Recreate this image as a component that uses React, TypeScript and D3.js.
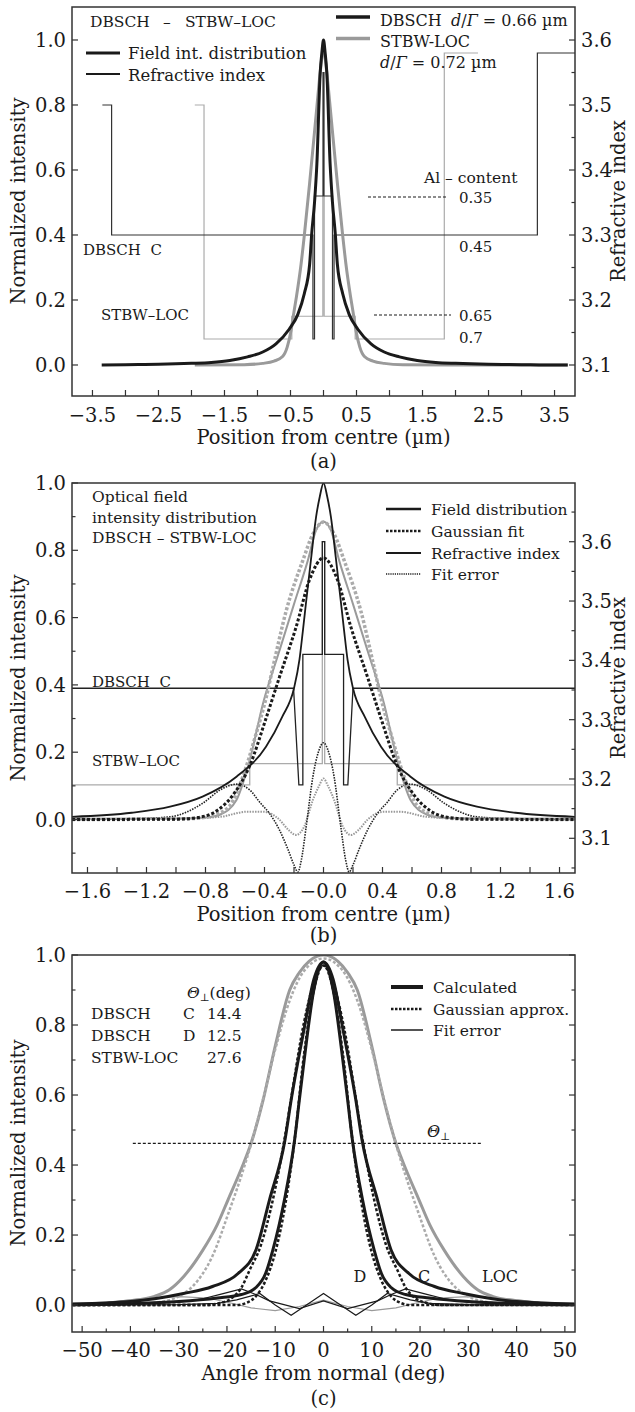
import React from 'react';
import * as d3 from 'd3';

const FONT = '"DejaVu Serif", serif';
const INK = '#1a1a1a';
const GRAY = '#9a9a9a';
const LGRAY = '#ababab';

type P = [number, number];

// ---------------- Panel (a) data ----------------
const A_X_TICKS = [-3.5, -3, -2.5, -2, -1.5, -1, -0.5, 0, 0.5, 1, 1.5, 2, 2.5, 3, 3.5];
const A_X_LABELS = [-3.5, -2.5, -1.5, -0.5, 0.5, 1.5, 2.5, 3.5];
const A_YL_TICKS = [0, 0.2, 0.4, 0.6, 0.8, 1.0];
const A_YR_TICKS = [3.1, 3.15, 3.2, 3.25, 3.3, 3.35, 3.4, 3.45, 3.5, 3.55, 3.6];
const A_YR_LABELS = [3.1, 3.2, 3.3, 3.4, 3.5, 3.6];

const A_FIELD_DBSCH: P[] = [
  [-3.36, 0], [-3.0, 0.001], [-2.5, 0.002], [-2.0, 0.005], [-1.7, 0.008], [-1.42, 0.014],
  [-1.15, 0.025], [-0.92, 0.04], [-0.72, 0.065], [-0.52, 0.11], [-0.39, 0.155], [-0.29, 0.22],
  [-0.21, 0.31], [-0.18, 0.4], [-0.136, 0.5], [-0.1, 0.62], [-0.05, 0.9], [-0.025, 0.96], [0, 1.0],
  [0.025, 0.96], [0.05, 0.9], [0.1, 0.62], [0.136, 0.5], [0.18, 0.4], [0.21, 0.31], [0.29, 0.22],
  [0.39, 0.155], [0.52, 0.11], [0.72, 0.065], [0.92, 0.04], [1.15, 0.025], [1.42, 0.014], [1.7, 0.008],
  [2.0, 0.005], [2.5, 0.002], [3.0, 0.001], [3.36, 0], [3.7, 0],
];
const A_FIELD_STBW: P[] = [
  [-1.95, 0], [-1.2, 0.001], [-0.92, 0.005], [-0.75, 0.012], [-0.62, 0.026], [-0.55, 0.055],
  [-0.49, 0.108], [-0.45, 0.16], [-0.41, 0.21], [-0.34, 0.31], [-0.29, 0.4], [-0.21, 0.56],
  [-0.1, 0.795], [-0.05, 0.9], [0, 0.97], [0.05, 0.9], [0.1, 0.795], [0.21, 0.56], [0.29, 0.4],
  [0.34, 0.31], [0.41, 0.21], [0.45, 0.16], [0.49, 0.108], [0.55, 0.055], [0.62, 0.026],
  [0.75, 0.012], [0.92, 0.005], [1.2, 0.001], [1.95, 0], [3.7, 0],
];
const A_INDEX_DBSCH: P[] = [
  [-3.35, 3.5], [-3.21, 3.5], [-3.21, 3.3], [-0.16, 3.3], [-0.16, 3.14], [-0.136, 3.14], [-0.136, 3.36],
  [-0.005, 3.36], [-0.005, 3.55], [0.005, 3.55], [0.005, 3.36], [0.136, 3.36], [0.136, 3.14],
  [0.16, 3.14], [0.16, 3.3], [3.24, 3.3], [3.24, 3.58], [3.81, 3.58],
];
const A_INDEX_STBW: P[] = [
  [-1.95, 3.5], [-1.81, 3.5], [-1.81, 3.14], [-0.48, 3.14], [-0.48, 3.175], [-0.01, 3.175],
  [-0.01, 3.55], [0.01, 3.55], [0.01, 3.175], [0.48, 3.175], [0.48, 3.14], [1.83, 3.14],
  [1.83, 3.58], [2.34, 3.58],
];

// ---------------- Panel (b) data ----------------
const B_X_TICKS = [-1.6, -1.4, -1.2, -1.0, -0.8, -0.6, -0.4, -0.2, 0, 0.2, 0.4, 0.6, 0.8, 1.0, 1.2, 1.4, 1.6];
const B_X_LABEL_VALUES = [-1.6, -1.2, -0.8, -0.4, 0, 0.4, 0.8, 1.2, 1.6];
const B_X_LABELS = ['−1.6', '−1.2', '−0.8', '−0.4', '−0.0', '0.4', '0.8', '1.2', '1.6'];
const B_YL_TICKS = [-0.1, 0, 0.1, 0.2, 0.3, 0.4, 0.5, 0.6, 0.7, 0.8, 0.9, 1.0];
const B_YL_LABELS = [0, 0.2, 0.4, 0.6, 0.8, 1.0];
const B_YR_TICKS = [3.05, 3.1, 3.15, 3.2, 3.25, 3.3, 3.35, 3.4, 3.45, 3.5, 3.55, 3.6, 3.65];
const B_YR_LABELS = [3.1, 3.2, 3.3, 3.4, 3.5, 3.6];

const B_FIELD_DBSCH: P[] = [
  [-1.705, 0.008], [-1.3, 0.02], [-1.04, 0.038], [-0.82, 0.068], [-0.59, 0.127], [-0.39, 0.216],
  [-0.28, 0.305], [-0.2, 0.39], [-0.163, 0.475], [-0.14, 0.56], [-0.117, 0.65], [-0.083, 0.78],
  [-0.05, 0.9], [-0.025, 0.96], [0, 1.0], [0.025, 0.96], [0.05, 0.9], [0.083, 0.78], [0.117, 0.65],
  [0.14, 0.56], [0.163, 0.475], [0.2, 0.39], [0.28, 0.305], [0.39, 0.216], [0.59, 0.127],
  [0.82, 0.068], [1.04, 0.038], [1.3, 0.02], [1.705, 0.008],
];
const B_GAUSS_DBSCH: P[] = [
  [-1.705, 0], [-1.0, 0.001], [-0.85, 0.006], [-0.727, 0.025], [-0.615, 0.072], [-0.5, 0.16],
  [-0.39, 0.3], [-0.298, 0.424], [-0.185, 0.573], [-0.095, 0.712], [0, 0.777], [0.095, 0.712],
  [0.185, 0.573], [0.298, 0.424], [0.39, 0.3], [0.5, 0.16], [0.615, 0.072], [0.727, 0.025],
  [0.85, 0.006], [1.0, 0.001], [1.705, 0],
];
const B_FIELD_STBW: P[] = [
  [-1.705, 0.002], [-1.0, 0.003], [-0.8, 0.006], [-0.7, 0.015], [-0.59, 0.058], [-0.5, 0.177],
  [-0.41, 0.345], [-0.3, 0.5], [-0.2, 0.64], [-0.106, 0.77], [-0.05, 0.86], [0, 0.885],
  [0.05, 0.86], [0.106, 0.77], [0.2, 0.64], [0.3, 0.5], [0.41, 0.345], [0.5, 0.177], [0.59, 0.058],
  [0.7, 0.015], [0.8, 0.006], [1.0, 0.003], [1.705, 0.002],
];
const B_GAUSS_STBW: P[] = [
  [-1.705, 0], [-1.0, 0.001], [-0.85, 0.004], [-0.75, 0.012], [-0.637, 0.04], [-0.547, 0.127],
  [-0.456, 0.256], [-0.39, 0.36], [-0.344, 0.45], [-0.253, 0.62], [-0.14, 0.77], [-0.07, 0.85],
  [0, 0.884], [0.07, 0.85], [0.14, 0.77], [0.253, 0.62], [0.344, 0.45], [0.39, 0.36], [0.456, 0.256],
  [0.547, 0.127], [0.637, 0.04], [0.75, 0.012], [0.85, 0.004], [1.0, 0.001], [1.705, 0],
];
const B_ERR_DBSCH: P[] = [
  [-1.705, 0], [-1.3, 0.002], [-1.04, 0.008], [-0.82, 0.048], [-0.7, 0.088], [-0.59, 0.105],
  [-0.5, 0.088], [-0.43, 0.05], [-0.366, 0.018], [-0.3, -0.03], [-0.24, -0.09], [-0.2, -0.135],
  [-0.174, -0.156], [-0.15, -0.12], [-0.117, -0.02], [-0.072, 0.127], [-0.035, 0.2], [0, 0.228],
  [0.035, 0.2], [0.072, 0.127], [0.117, -0.02], [0.15, -0.12], [0.174, -0.156], [0.2, -0.135],
  [0.24, -0.09], [0.3, -0.03], [0.366, 0.018], [0.43, 0.05], [0.5, 0.088], [0.59, 0.105],
  [0.7, 0.088], [0.82, 0.048], [1.04, 0.008], [1.3, 0.002], [1.705, 0],
];
const B_ERR_STBW: P[] = [
  [-1.705, 0], [-1.0, 0.002], [-0.7, 0.008], [-0.52, 0.023], [-0.41, 0.023], [-0.3, 0.0],
  [-0.24, -0.03], [-0.185, -0.046], [-0.13, -0.02], [-0.072, 0.058], [-0.03, 0.1], [0, 0.122],
  [0.03, 0.1], [0.072, 0.058], [0.13, -0.02], [0.185, -0.046], [0.24, -0.03], [0.3, 0.0],
  [0.41, 0.023], [0.52, 0.023], [0.7, 0.008], [1.0, 0.002], [1.705, 0],
];
const B_INDEX_DBSCH: P[] = [
  [-1.705, 3.353], [-0.203, 3.353], [-0.167, 3.19], [-0.14, 3.19], [-0.14, 3.41], [-0.008, 3.41],
  [-0.008, 3.6], [0.008, 3.6], [0.008, 3.41], [0.136, 3.41], [0.136, 3.19], [0.165, 3.19],
  [0.2, 3.353], [1.705, 3.353],
];
const B_INDEX_STBW: P[] = [
  [-1.705, 3.19], [-0.5, 3.19], [-0.5, 3.226], [-0.008, 3.226], [-0.008, 3.6], [0.008, 3.6],
  [0.008, 3.226], [0.5, 3.226], [0.5, 3.19], [1.705, 3.19],
];

// ---------------- Panel (c) data ----------------
const C_X_TICKS = [-50, -45, -40, -35, -30, -25, -20, -15, -10, -5, 0, 5, 10, 15, 20, 25, 30, 35, 40, 45, 50];
const C_X_LABELS = [-50, -40, -30, -20, -10, 0, 10, 20, 30, 40, 50];
const C_Y_TICKS = [0, 0.1, 0.2, 0.3, 0.4, 0.5, 0.6, 0.7, 0.8, 0.9, 1.0];
const C_Y_LABELS = [0, 0.2, 0.4, 0.6, 0.8, 1.0];

const C_CALC_LOC: P[] = [
  [-52, 0.002], [-45, 0.006], [-40, 0.012], [-35, 0.025], [-32, 0.043], [-29, 0.081], [-25, 0.157],
  [-22, 0.23], [-19.8, 0.3], [-17, 0.39], [-15, 0.462], [-12.5, 0.586], [-10, 0.74], [-7, 0.9],
  [-5, 0.95], [-3, 0.982], [0, 1.0], [3, 0.982], [5, 0.95], [7, 0.9], [10, 0.74], [12.5, 0.586],
  [15, 0.462], [17, 0.39], [19.8, 0.3], [22, 0.23], [25, 0.157], [29, 0.081], [32, 0.043],
  [35, 0.025], [40, 0.012], [45, 0.006], [52, 0.002],
];
const C_GAUSS_LOC: P[] = [
  [-52, 0], [-40, 0.001], [-35, 0.006], [-30, 0.025], [-27, 0.055], [-23, 0.14], [-19.5, 0.27],
  [-17, 0.37], [-15, 0.46], [-12.5, 0.59], [-10, 0.73], [-7, 0.87], [-4, 0.955], [0, 0.99],
  [4, 0.955], [7, 0.87], [10, 0.73], [12.5, 0.59], [15, 0.46], [17, 0.37], [19.5, 0.27], [23, 0.14],
  [27, 0.055], [30, 0.025], [35, 0.006], [40, 0.001], [52, 0],
];
const C_CALC_C: P[] = [
  [-52, 0.003], [-45, 0.006], [-40, 0.01], [-35, 0.018], [-29, 0.033], [-23, 0.053], [-17.7, 0.09],
  [-14, 0.157], [-11.2, 0.3], [-8, 0.47], [-6.7, 0.586], [-4, 0.79], [-2, 0.93], [0, 0.98],
  [2, 0.93], [4, 0.79], [6.7, 0.586], [8, 0.47], [11.2, 0.3], [14, 0.157], [17.7, 0.09], [23, 0.053],
  [29, 0.033], [35, 0.018], [40, 0.01], [45, 0.006], [52, 0.003],
];
const C_CALC_D: P[] = [
  [-52, 0.001], [-40, 0.004], [-30, 0.01], [-22, 0.02], [-17, 0.03], [-14, 0.05], [-12, 0.09],
  [-10.5, 0.157], [-8.1, 0.3], [-6, 0.47], [-5, 0.586], [-4, 0.7], [-2, 0.9], [0, 0.98], [2, 0.9],
  [4, 0.7], [5, 0.586], [6, 0.47], [8.1, 0.3], [10.5, 0.157], [12, 0.09], [14, 0.05], [17, 0.03],
  [22, 0.02], [30, 0.01], [40, 0.004], [52, 0.001],
];
const C_GAUSS_C: P[] = [
  [-52, 0], [-25, 0], [-22, 0.004], [-19, 0.02], [-17, 0.05], [-15.3, 0.1], [-13, 0.17], [-11, 0.27],
  [-8, 0.48], [-6.7, 0.59], [-4, 0.81], [0, 0.97], [4, 0.81], [6.7, 0.59], [8, 0.48], [11, 0.27],
  [13, 0.17], [15.3, 0.1], [17, 0.05], [19, 0.02], [22, 0.004], [25, 0], [52, 0],
];
const C_GAUSS_D: P[] = [
  [-52, 0], [-18, 0], [-16, 0.006], [-14, 0.025], [-12, 0.07], [-10, 0.15], [-8, 0.28], [-6, 0.47],
  [-4, 0.72], [-2, 0.9], [0, 0.97], [2, 0.9], [4, 0.72], [6, 0.47], [8, 0.28], [10, 0.15], [12, 0.07],
  [14, 0.025], [16, 0.006], [18, 0], [52, 0],
];
const C_ERR_C: P[] = [
  [-52, 0], [-40, 0.002], [-30, 0.008], [-25, 0.018], [-21, 0.032], [-17, 0.046], [-14, 0.03],
  [-11.2, 0.012], [-5, -0.01], [0, 0.012], [5, -0.01], [11.2, 0.012], [14, 0.03], [17, 0.046],
  [21, 0.032], [25, 0.018], [30, 0.008], [40, 0.002], [52, 0],
];
const C_ERR_D: P[] = [
  [-52, 0], [-30, 0.001], [-22, 0.005], [-18, 0.015], [-13.2, 0.033], [-10, 0.0], [-6.7, -0.029],
  [-3.3, 0.002], [0, 0.033], [3.3, 0.002], [6.7, -0.029], [10, 0.0], [13.2, 0.033], [18, 0.015],
  [22, 0.005], [30, 0.001], [52, 0],
];
const C_ERR_LOC: P[] = [
  [-52, 0.002], [-45, 0.008], [-38, 0.018], [-30, 0.024], [-24, 0.02], [-19, 0.005], [-15, -0.008],
  [-10, -0.016], [-5, -0.004], [0, 0.014], [5, -0.004], [10, -0.016], [15, -0.008], [19, 0.005],
  [24, 0.02], [30, 0.024], [38, 0.018], [45, 0.008], [52, 0.002],
];
const C_THETA_LINE: P[] = [[-39.5, 0.462], [33, 0.462]];

// ---------------- helpers ----------------
const L = 72;
const R = 575;
const SP2 = '\u00a0\u00a0';

function fmt(v: number, d: number) {
  return (v < 0 ? '−' : '') + Math.abs(v).toFixed(d);
}

type Sc = d3.ScaleLinear<number, number>;

function Frame(props: {
  x: Sc; yL: Sc; yR: Sc; top: number; bottom: number;
  xTicks: number[]; xMajor: (v: number) => boolean; xLabelVals: number[]; xLabels: string[];
  yLTicks: number[]; yLMajor: (v: number) => boolean; yLLabels: number[];
  yRTicks: number[]; yRMajor: (v: number) => boolean; yRLabels: number[];
  xLabelBase: number; tickFont: number;
}) {
  const { x, yL, yR, top, bottom } = props;
  const majorLen = 6;
  const minorLen = 3.5;
  return (
    <g>
      {props.xTicks.map((v, i) => (
        <line key={'xt' + i} x1={x(v)} x2={x(v)} y1={bottom} y2={bottom - (props.xMajor(v) ? majorLen : minorLen)} stroke="#333" strokeWidth={1.2} />
      ))}
      {props.xLabelVals.map((v, i) => (
        <text key={'xl' + i} x={x(v)} y={props.xLabelBase} textAnchor="middle" fontSize={props.tickFont} fill={INK}>{props.xLabels[i]}</text>
      ))}
      {props.yLTicks.map((v, i) => (
        <line key={'ylt' + i} x1={L} x2={L + (props.yLMajor(v) ? majorLen : minorLen)} y1={yL(v)} y2={yL(v)} stroke="#333" strokeWidth={1.2} />
      ))}
      {props.yLLabels.map((v, i) => (
        <text key={'yll' + i} x={L - 6} y={yL(v)} dy="0.36em" textAnchor="end" fontSize={props.tickFont} fill={INK}>{fmt(v, 1)}</text>
      ))}
      {props.yRTicks.map((v, i) => (
        <line key={'yrt' + i} x1={R} x2={R - (props.yRMajor(v) ? majorLen : minorLen)} y1={yR(v)} y2={yR(v)} stroke="#333" strokeWidth={1.2} />
      ))}
      {props.yRLabels.map((v, i) => (
        <text key={'yrl' + i} x={R + 6} y={yR(v)} dy="0.36em" textAnchor="start" fontSize={props.tickFont} fill={INK}>{fmt(v, 1)}</text>
      ))}
      <rect x={L} y={top} width={R - L} height={bottom - top} fill="none" stroke="#333" strokeWidth={1.5} />
    </g>
  );
}

const near = (v: number, step: number) => Math.abs(v / step - Math.round(v / step)) < 1e-6;

export default function App() {
  const ax = d3.scaleLinear().domain([-3.81, 3.81]).range([L, R]);
  const ayL = d3.scaleLinear().domain([-0.0954, 1.1015]).range([396, 7]);
  const ayR = d3.scaleLinear().domain([3.0523, 3.6508]).range([396, 7]);

  const bx = d3.scaleLinear().domain([-1.705, 1.705]).range([L, R]);
  const byL = d3.scaleLinear().domain([-0.159, 1.0]).range([873, 483]);
  const byR = d3.scaleLinear().domain([3.0415, 3.699]).range([873, 483]);

  const cx = d3.scaleLinear().domain([-52.1, 52.1]).range([L, R]);
  const cyL = d3.scaleLinear().domain([-0.077, 1.0]).range([1332, 955]);

  const smooth = (x: Sc, y: Sc) => d3.line<P>().x(d => x(d[0])).y(d => y(d[1])).curve(d3.curveMonotoneX);
  const lin = (x: Sc, y: Sc) => d3.line<P>().x(d => x(d[0])).y(d => y(d[1]));

  const aS = smooth(ax, ayL);
  const aI = lin(ax, ayR);
  const bS = smooth(bx, byL);
  const bI = lin(bx, byR);
  const cS = smooth(cx, cyL);
  const cLn = lin(cx, cyL);

  const tickFont = 19.5;
  const titleFont = 19.5;

  return (
    <svg width={635} height={1412} style={{ position: 'absolute', left: 0, top: 0, background: '#fff' }} fontFamily={FONT}>
      <defs>
        <clipPath id="clipA"><rect x={L} y={7} width={R - L} height={389} /></clipPath>
        <clipPath id="clipB"><rect x={L} y={483} width={R - L} height={390} /></clipPath>
        <clipPath id="clipC"><rect x={L} y={955} width={R - L} height={377} /></clipPath>
      </defs>
      <rect x={0} y={0} width={635} height={1412} fill="#fff" />

      {/* ================= Panel (a) ================= */}
      <g clipPath="url(#clipA)">
        <path d={aI(A_INDEX_STBW) || ''} fill="none" stroke={LGRAY} strokeWidth={1.2} />
        <path d={aI(A_INDEX_DBSCH) || ''} fill="none" stroke="#333" strokeWidth={1.2} />
        <path d={aS(A_FIELD_STBW) || ''} fill="none" stroke={GRAY} strokeWidth={3} />
        <path d={aS(A_FIELD_DBSCH) || ''} fill="none" stroke={INK} strokeWidth={3} />
      </g>
      <Frame x={ax} yL={ayL} yR={ayR} top={7} bottom={396}
        xTicks={A_X_TICKS} xMajor={() => true} xLabelVals={A_X_LABELS} xLabels={A_X_LABELS.map(v => fmt(v, 1))}
        yLTicks={A_YL_TICKS} yLMajor={() => true} yLLabels={A_YL_TICKS}
        yRTicks={A_YR_TICKS} yRMajor={v => near(v, 0.1)} yRLabels={A_YR_LABELS}
        xLabelBase={422} tickFont={tickFont} />
      <g fill={INK}>
        <text x={90} y={27} fontSize={15.5}>DBSCH</text>
        <text x={163} y={27} fontSize={15.5}>–</text>
        <text x={185} y={27} fontSize={15.5}>STBW–LOC</text>
        <line x1={86} x2={120} y1={53} y2={53} stroke={INK} strokeWidth={3} />
        <text x={128} y={59} fontSize={16.5}>Field int. distribution</text>
        <line x1={86} x2={120} y1={74} y2={74} stroke={INK} strokeWidth={1.8} />
        <text x={128} y={81} fontSize={16.5}>Refractive index</text>

        <line x1={336} x2={370} y1={17} y2={17} stroke={INK} strokeWidth={3.5} />
        <text x={380} y={26} fontSize={16}>DBSCH<tspan x={451} fontStyle="italic">d</tspan><tspan>/</tspan><tspan fontStyle="italic">Γ</tspan> = 0.66 µm</text>
        <line x1={336} x2={370} y1={38.5} y2={38.5} stroke={GRAY} strokeWidth={3.5} />
        <text x={380} y={46.5} fontSize={16}>STBW-LOC</text>
        <text x={380} y={68} fontSize={16}><tspan fontStyle="italic">d</tspan>/<tspan fontStyle="italic">Γ</tspan> = 0.72 µm</text>

        <text x={424} y={183} fontSize={15.5}>Al – content</text>
        <line x1={368} x2={447} y1={197} y2={197} stroke={INK} strokeWidth={1.2} strokeDasharray="3 2" />
        <text x={459} y={203} fontSize={15}>0.35</text>
        <text x={459} y={252} fontSize={15}>0.45</text>
        <line x1={374} x2={451} y1={315} y2={315} stroke={INK} strokeWidth={1.2} strokeDasharray="3 2" />
        <text x={459} y={321} fontSize={15}>0.65</text>
        <text x={459} y={343} fontSize={15}>0.7</text>
        <text x={83} y={255} fontSize={15}>{'DBSCH' + SP2 + 'C'}</text>
        <text x={101} y={320} fontSize={15}>STBW–LOC</text>

        <text x={323.5} y={444} fontSize={titleFont} textAnchor="middle">Position from centre (µm)</text>
        <text x={323.5} y={468} fontSize={titleFont} textAnchor="middle">(a)</text>
        <text transform={`translate(25,201) rotate(-90)`} fontSize={titleFont} textAnchor="middle">Normalized intensity</text>
        <text transform={`translate(625,201) rotate(-90)`} fontSize={titleFont} textAnchor="middle">Refractive index</text>
      </g>

      {/* ================= Panel (b) ================= */}
      <g clipPath="url(#clipB)">
        <path d={bI(B_INDEX_STBW) || ''} fill="none" stroke={LGRAY} strokeWidth={1.3} />
        <path d={bI(B_INDEX_DBSCH) || ''} fill="none" stroke="#222" strokeWidth={1.3} />
        <path d={bS(B_ERR_STBW) || ''} fill="none" stroke="#999" strokeWidth={2} strokeDasharray="1.5 1.2" />
        <path d={bS(B_ERR_DBSCH) || ''} fill="none" stroke="#222" strokeWidth={1.6} strokeDasharray="1.5 1.2" />
        <path d={bS(B_FIELD_STBW) || ''} fill="none" stroke={GRAY} strokeWidth={2} />
        <path d={bS(B_GAUSS_STBW) || ''} fill="none" stroke={LGRAY} strokeWidth={3.5} strokeDasharray="3 2" />
        <path d={bS(B_GAUSS_DBSCH) || ''} fill="none" stroke={INK} strokeWidth={3} strokeDasharray="3 2" />
        <path d={bS(B_FIELD_DBSCH) || ''} fill="none" stroke={INK} strokeWidth={1.8} />
      </g>
      <Frame x={bx} yL={byL} yR={byR} top={483} bottom={873}
        xTicks={B_X_TICKS} xMajor={() => true} xLabelVals={B_X_LABEL_VALUES} xLabels={B_X_LABELS}
        yLTicks={B_YL_TICKS} yLMajor={v => near(v, 0.2)} yLLabels={B_YL_LABELS}
        yRTicks={B_YR_TICKS} yRMajor={v => near(v, 0.1)} yRLabels={B_YR_LABELS}
        xLabelBase={898} tickFont={tickFont} />
      <g fill={INK}>
        <text x={92} y={502} fontSize={15.5}>Optical field</text>
        <text x={92} y={523} fontSize={15.5}>intensity distribution</text>
        <text x={92} y={543} fontSize={15.5}>DBSCH – STBW-LOC</text>

        <line x1={386} x2={421} y1={509} y2={509} stroke={INK} strokeWidth={2.5} />
        <text x={431} y={515} fontSize={15.5}>Field distribution</text>
        <line x1={386} x2={421} y1={531} y2={531} stroke={INK} strokeWidth={2.5} strokeDasharray="2.5 1.5" />
        <text x={431} y={537} fontSize={15.5}>Gaussian fit</text>
        <line x1={386} x2={421} y1={553} y2={553} stroke={INK} strokeWidth={1.8} />
        <text x={431} y={559} fontSize={15.5}>Refractive index</text>
        <line x1={386} x2={421} y1={574} y2={574} stroke="#555" strokeWidth={1.8} strokeDasharray="1.2 1" />
        <text x={431} y={580} fontSize={15.5}>Fit error</text>

        <text x={92} y={687} fontSize={15}>{'DBSCH' + SP2 + 'C'}</text>
        <text x={92} y={766} fontSize={15}>STBW–LOC</text>

        <text x={323.5} y={921} fontSize={titleFont} textAnchor="middle">Position from centre (µm)</text>
        <text x={323.5} y={942} fontSize={titleFont} textAnchor="middle">(b)</text>
        <text transform={`translate(25,678) rotate(-90)`} fontSize={titleFont} textAnchor="middle">Normalized intensity</text>
        <text transform={`translate(625,678) rotate(-90)`} fontSize={titleFont} textAnchor="middle">Refractive index</text>
      </g>

      {/* ================= Panel (c) ================= */}
      <g clipPath="url(#clipC)">
        <path d={cLn(C_ERR_LOC) || ''} fill="none" stroke={GRAY} strokeWidth={1.1} />
        <path d={cLn(C_ERR_C) || ''} fill="none" stroke={INK} strokeWidth={1.2} />
        <path d={cLn(C_ERR_D) || ''} fill="none" stroke={INK} strokeWidth={1.2} />
        <path d={cS(C_CALC_LOC) || ''} fill="none" stroke={GRAY} strokeWidth={3} />
        <path d={cS(C_GAUSS_LOC) || ''} fill="none" stroke={LGRAY} strokeWidth={2.5} strokeDasharray="3 2" />
        <path d={cS(C_CALC_C) || ''} fill="none" stroke={INK} strokeWidth={3} />
        <path d={cS(C_CALC_D) || ''} fill="none" stroke={INK} strokeWidth={3} />
        <path d={cS(C_GAUSS_C) || ''} fill="none" stroke={INK} strokeWidth={2.5} strokeDasharray="3 2" />
        <path d={cS(C_GAUSS_D) || ''} fill="none" stroke={INK} strokeWidth={2.5} strokeDasharray="3 2" />
        <path d={cLn(C_THETA_LINE) || ''} fill="none" stroke={INK} strokeWidth={1.2} strokeDasharray="3 2" />
      </g>
      <Frame x={cx} yL={cyL} yR={cyL} top={955} bottom={1332}
        xTicks={C_X_TICKS} xMajor={v => near(v, 10)} xLabelVals={C_X_LABELS} xLabels={C_X_LABELS.map(v => fmt(v, 0))}
        yLTicks={C_Y_TICKS} yLMajor={v => near(v, 0.2)} yLLabels={C_Y_LABELS}
        yRTicks={C_Y_TICKS} yRMajor={v => near(v, 0.2)} yRLabels={[]}
        xLabelBase={1357} tickFont={tickFont} />
      <g fill={INK}>
        <text x={187} y={998} fontSize={15.5}><tspan fontStyle="italic">Θ</tspan><tspan fontSize={10.5} dy={3}>⊥</tspan><tspan dy={-3}>(deg)</tspan></text>
        <text x={91} y={1019} fontSize={15.5}>DBSCH</text>
        <text x={183} y={1019} fontSize={15.5}>C</text>
        <text x={207} y={1019} fontSize={15.5}>14.4</text>
        <text x={91} y={1041} fontSize={15.5}>DBSCH</text>
        <text x={183} y={1041} fontSize={15.5}>D</text>
        <text x={207} y={1041} fontSize={15.5}>12.5</text>
        <text x={91} y={1063} fontSize={15.5}>STBW-LOC</text>
        <text x={207} y={1063} fontSize={15.5}>27.6</text>

        <line x1={391} x2={423} y1={987} y2={987} stroke={INK} strokeWidth={4} />
        <text x={433} y={993} fontSize={15.5}>Calculated</text>
        <line x1={391} x2={423} y1={1009} y2={1009} stroke={INK} strokeWidth={2.5} strokeDasharray="2.5 1.5" />
        <text x={433} y={1015} fontSize={15.5}>Gaussian approx.</text>
        <line x1={391} x2={423} y1={1030} y2={1030} stroke={INK} strokeWidth={1.5} />
        <text x={433} y={1036} fontSize={15.5}>Fit error</text>

        <text x={427} y={1137} fontSize={16}><tspan fontStyle="italic">Θ</tspan><tspan fontSize={10.5} dy={3}>⊥</tspan></text>
        <text x={360} y={1282} fontSize={16} textAnchor="middle">D</text>
        <text x={424} y={1282} fontSize={16} textAnchor="middle">C</text>
        <text x={500} y={1282} fontSize={16} textAnchor="middle">LOC</text>

        <text x={323.5} y={1380} fontSize={titleFont} textAnchor="middle">Angle from normal (deg)</text>
        <text x={323.5} y={1405} fontSize={titleFont} textAnchor="middle">(c)</text>
        <text transform={`translate(25,1143) rotate(-90)`} fontSize={titleFont} textAnchor="middle">Normalized intensity</text>
      </g>
    </svg>
  );
}
